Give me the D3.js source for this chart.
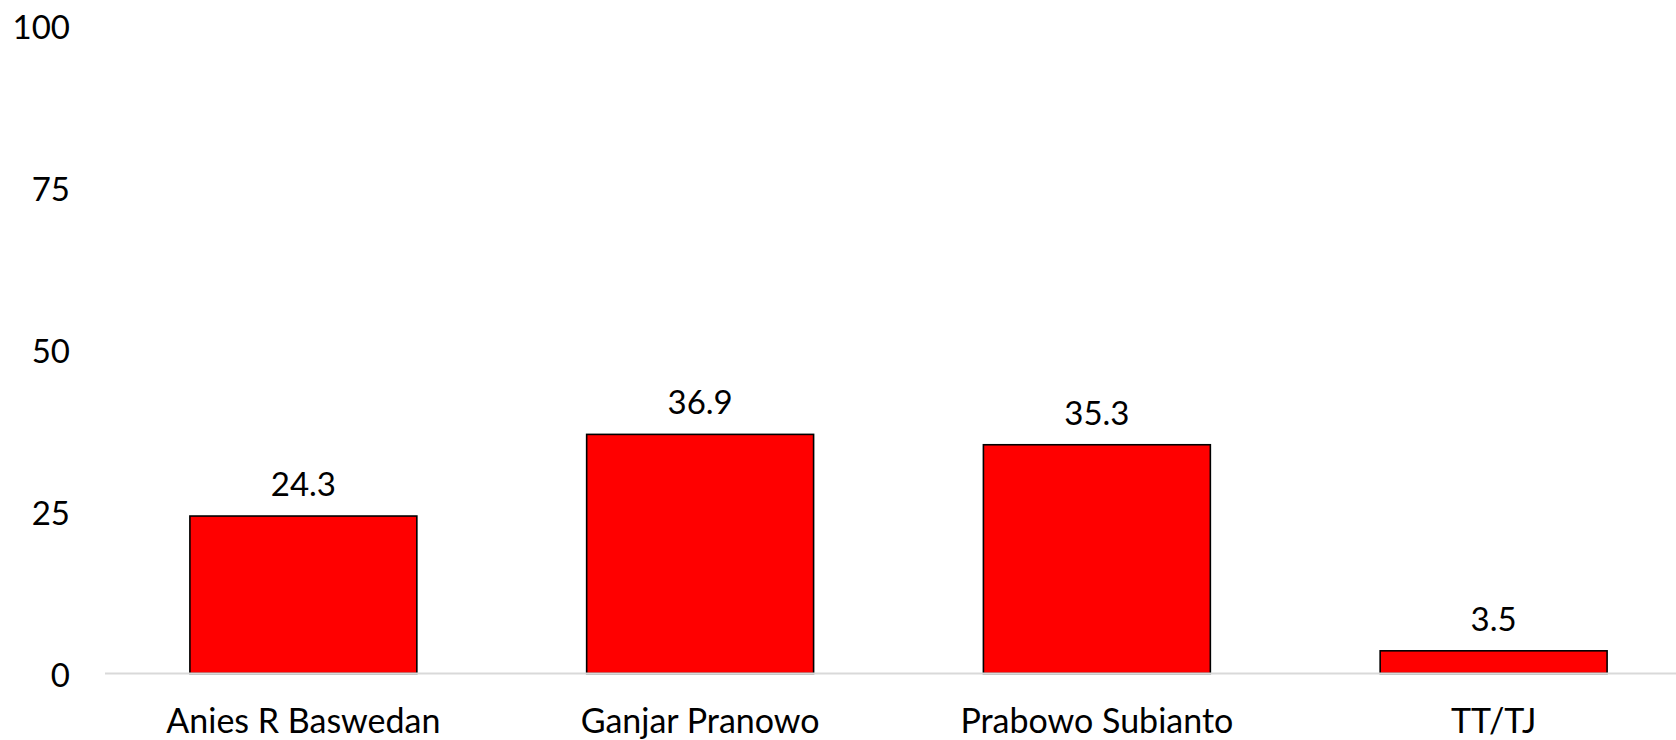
<!DOCTYPE html>
<html>
<head>
<meta charset="utf-8">
<script src="https://cdn.jsdelivr.net/npm/d3@7"></script>
<style>
html,body{margin:0;padding:0;background:#fff;}
svg text{font-family:Lato,"Open Sans",sans-serif;fill:#000;}
</style>
</head>
<body>
<svg id="chart" width="1676" height="740"></svg>
<script>
const categories = ["Anies R Baswedan", "Ganjar Pranowo", "Prabowo Subianto", "TT/TJ"];
const values = [24.3, 36.9, 35.3, 3.5];
const yTicks = [0, 25, 50, 75, 100];

const svg = d3.select("#chart");
const W = 1676, H = 740;
const x = d3.scaleBand().domain(categories).range([105, 1692]).paddingInner(0.428).paddingOuter(0.214);
const y = d3.scaleLinear().domain([0, 100]).range([673.5, 25.5]);

// y tick labels
svg.append("g").selectAll("text").data(yTicks).join("text")
  .attr("x", 70).attr("y", d => y(d))
  .attr("text-anchor", "end").attr("dominant-baseline", "central")
  .style("font-size", "33px").text(d => d);

// bars
svg.append("g").selectAll("rect").data(values).join("rect")
  .attr("x", (d, i) => x(categories[i]))
  .attr("y", d => y(d))
  .attr("width", x.bandwidth())
  .attr("height", d => y(0) - y(d))
  .attr("fill", "#ff0000").attr("stroke", "#000").attr("stroke-width", 1.6);

// baseline axis
svg.append("line").attr("x1", 105).attr("x2", W).attr("y1", y(0)).attr("y2", y(0))
  .attr("stroke", "#d9d9d9").attr("stroke-width", 2);

// value labels
svg.append("g").selectAll("text").data(values).join("text")
  .attr("x", (d, i) => x(categories[i]) + x.bandwidth() / 2)
  .attr("y", d => y(d) - 20)
  .attr("text-anchor", "middle")
  .style("font-size", "33px").text(d => d.toFixed(1));

// category labels
svg.append("g").selectAll("text").data(categories).join("text")
  .attr("x", d => x(d) + x.bandwidth() / 2)
  .attr("y", 733)
  .attr("text-anchor", "middle")
  .style("font-size", "34px").text(d => d);
</script>
</body>
</html>
